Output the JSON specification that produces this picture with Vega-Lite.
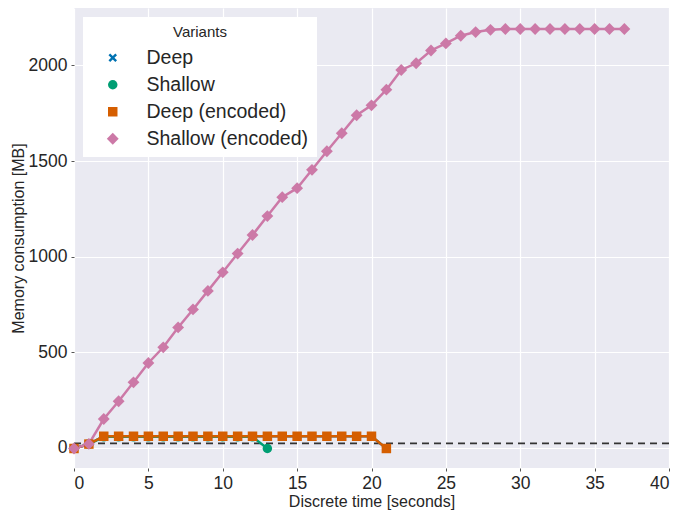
{
  "$schema": "https://vega.github.io/schema/vega-lite/v6.json",
  "width": 595,
  "height": 460,
  "autosize": {"type": "none"},
  "padding": {"left": 74, "top": 8, "right": 11, "bottom": 47},
  "background": "white",
  "config": {
    "view": {"fill": "#EAEAF2", "stroke": null},
    "font": "Liberation Sans",
    "axis": {
      "domain": false,
      "grid": true,
      "gridColor": "white",
      "gridWidth": 1.2,
      "tickColor": "#555555",
      "tickSize": 3,
      "labelFont": "Liberation Sans",
      "labelFontSize": 17.5,
      "labelColor": "#262626",
      "titleFont": "Liberation Sans",
      "titleFontSize": 16,
      "titleFontWeight": "normal",
      "titleColor": "#262626"
    },
    "legend": {
      "orient": "none", "legendX": 9, "legendY": 9,
      "fillColor": "white", "padding": 8, "symbolOffset": 12, "labelOffset": 24, "labelLimit": 300,
      "labelFont": "Liberation Sans", "labelFontSize": 19.5, "labelColor": "#262626",
      "titleFont": "Liberation Sans", "titleFontSize": 15, "titleFontWeight": "normal", "titleColor": "#262626",
      "titleAnchor": "middle", "titlePadding": 8, "rowPadding": 6, "symbolSize": 90, "symbolStrokeWidth": 0
    }
  },
  "datasets": {
    "series": [
      {"t": 0, "v": -3, "s": "Deep"}, {"t": 1, "v": 20, "s": "Deep"}, {"t": 2, "v": 61, "s": "Deep"}, {"t": 3, "v": 61, "s": "Deep"}, {"t": 4, "v": 61, "s": "Deep"}, {"t": 5, "v": 61, "s": "Deep"}, {"t": 6, "v": 61, "s": "Deep"}, {"t": 7, "v": 61, "s": "Deep"}, {"t": 8, "v": 61, "s": "Deep"}, {"t": 9, "v": 61, "s": "Deep"}, {"t": 10, "v": 61, "s": "Deep"}, {"t": 11, "v": 61, "s": "Deep"}, {"t": 12, "v": 61, "s": "Deep"}, {"t": 13, "v": 61, "s": "Deep"}, {"t": 14, "v": 61, "s": "Deep"}, {"t": 15, "v": 61, "s": "Deep"}, {"t": 16, "v": 61, "s": "Deep"}, {"t": 17, "v": 61, "s": "Deep"}, {"t": 18, "v": 61, "s": "Deep"}, {"t": 19, "v": 61, "s": "Deep"}, {"t": 20, "v": 61, "s": "Deep"}, {"t": 21, "v": -3, "s": "Deep"},
      {"t": 0, "v": -3, "s": "Shallow"}, {"t": 1, "v": 20, "s": "Shallow"}, {"t": 2, "v": 58, "s": "Shallow"}, {"t": 3, "v": 58, "s": "Shallow"}, {"t": 4, "v": 58, "s": "Shallow"}, {"t": 5, "v": 58, "s": "Shallow"}, {"t": 6, "v": 58, "s": "Shallow"}, {"t": 7, "v": 58, "s": "Shallow"}, {"t": 8, "v": 58, "s": "Shallow"}, {"t": 9, "v": 58, "s": "Shallow"}, {"t": 10, "v": 58, "s": "Shallow"}, {"t": 11, "v": 58, "s": "Shallow"}, {"t": 12, "v": 58, "s": "Shallow"}, {"t": 13, "v": -3, "s": "Shallow"},
      {"t": 0, "v": -3, "s": "Deep (encoded)"}, {"t": 1, "v": 20, "s": "Deep (encoded)"}, {"t": 2, "v": 61, "s": "Deep (encoded)"}, {"t": 3, "v": 61, "s": "Deep (encoded)"}, {"t": 4, "v": 61, "s": "Deep (encoded)"}, {"t": 5, "v": 61, "s": "Deep (encoded)"}, {"t": 6, "v": 61, "s": "Deep (encoded)"}, {"t": 7, "v": 61, "s": "Deep (encoded)"}, {"t": 8, "v": 61, "s": "Deep (encoded)"}, {"t": 9, "v": 61, "s": "Deep (encoded)"}, {"t": 10, "v": 61, "s": "Deep (encoded)"}, {"t": 11, "v": 61, "s": "Deep (encoded)"}, {"t": 12, "v": 61, "s": "Deep (encoded)"}, {"t": 13, "v": 61, "s": "Deep (encoded)"}, {"t": 14, "v": 61, "s": "Deep (encoded)"}, {"t": 15, "v": 61, "s": "Deep (encoded)"}, {"t": 16, "v": 61, "s": "Deep (encoded)"}, {"t": 17, "v": 61, "s": "Deep (encoded)"}, {"t": 18, "v": 61, "s": "Deep (encoded)"}, {"t": 19, "v": 61, "s": "Deep (encoded)"}, {"t": 20, "v": 61, "s": "Deep (encoded)"}, {"t": 21, "v": -3, "s": "Deep (encoded)"},
      {"t": 0, "v": -3, "s": "Shallow (encoded)"}, {"t": 1, "v": 21, "s": "Shallow (encoded)"}, {"t": 2, "v": 151, "s": "Shallow (encoded)"}, {"t": 3, "v": 244, "s": "Shallow (encoded)"}, {"t": 4, "v": 343, "s": "Shallow (encoded)"}, {"t": 5, "v": 444, "s": "Shallow (encoded)"}, {"t": 6, "v": 526, "s": "Shallow (encoded)"}, {"t": 7, "v": 630, "s": "Shallow (encoded)"}, {"t": 8, "v": 724, "s": "Shallow (encoded)"}, {"t": 9, "v": 821, "s": "Shallow (encoded)"}, {"t": 10, "v": 918, "s": "Shallow (encoded)"}, {"t": 11, "v": 1016, "s": "Shallow (encoded)"}, {"t": 12, "v": 1113, "s": "Shallow (encoded)"}, {"t": 13, "v": 1212, "s": "Shallow (encoded)"}, {"t": 14, "v": 1311, "s": "Shallow (encoded)"}, {"t": 15, "v": 1358, "s": "Shallow (encoded)"}, {"t": 16, "v": 1454, "s": "Shallow (encoded)"}, {"t": 17, "v": 1551, "s": "Shallow (encoded)"}, {"t": 18, "v": 1645, "s": "Shallow (encoded)"}, {"t": 19, "v": 1739, "s": "Shallow (encoded)"}, {"t": 20, "v": 1791, "s": "Shallow (encoded)"}, {"t": 21, "v": 1873, "s": "Shallow (encoded)"}, {"t": 22, "v": 1976, "s": "Shallow (encoded)"}, {"t": 23, "v": 2011, "s": "Shallow (encoded)"}, {"t": 24, "v": 2078, "s": "Shallow (encoded)"}, {"t": 25, "v": 2115, "s": "Shallow (encoded)"}, {"t": 26, "v": 2155, "s": "Shallow (encoded)"}, {"t": 27, "v": 2174, "s": "Shallow (encoded)"}, {"t": 28, "v": 2186, "s": "Shallow (encoded)"}, {"t": 29, "v": 2190, "s": "Shallow (encoded)"}, {"t": 30, "v": 2190, "s": "Shallow (encoded)"}, {"t": 31, "v": 2190, "s": "Shallow (encoded)"}, {"t": 32, "v": 2190, "s": "Shallow (encoded)"}, {"t": 33, "v": 2190, "s": "Shallow (encoded)"}, {"t": 34, "v": 2190, "s": "Shallow (encoded)"}, {"t": 35, "v": 2190, "s": "Shallow (encoded)"}, {"t": 36, "v": 2190, "s": "Shallow (encoded)"}, {"t": 37, "v": 2190, "s": "Shallow (encoded)"}
    ],
    "baseline": [{"y": 24}]
  },
  "layer": [
    {
      "data": {"name": "baseline"},
      "mark": {"type": "rule", "color": "#333333", "strokeWidth": 1.6, "strokeDash": [7, 5]},
      "encoding": {"y": {"field": "y", "type": "quantitative"}}
    },
    {
      "data": {"name": "series"},
      "mark": {"type": "line", "strokeWidth": 2.5},
      "encoding": {
        "x": {"field": "t", "type": "quantitative", "scale": {"domain": [0, 40], "nice": false, "zero": false}, "axis": {"values": [0, 5, 10, 15, 20, 25, 30, 35, 40], "format": "d", "title": "Discrete time [seconds]", "labelPadding": 3, "titlePadding": 2}},
        "y": {"field": "v", "type": "quantitative", "scale": {"domain": [-105, 2300], "nice": false, "zero": false}, "axis": {"values": [0, 500, 1000, 1500, 2000], "format": "d", "title": "Memory consumption [MB]", "labelPadding": 4, "titlePadding": 2}},
        "color": {"field": "s", "type": "nominal", "title": "Variants", "scale": {"domain": ["Deep", "Shallow", "Deep (encoded)", "Shallow (encoded)"], "range": ["#0072B2", "#009E73", "#D55E00", "#CC79A7"]}},
        "order": {"field": "t", "type": "quantitative"}
      }
    },
    {
      "data": {"name": "series"},
      "mark": {"type": "point", "filled": true, "opacity": 1, "size": 90},
      "encoding": {
        "x": {"field": "t", "type": "quantitative"},
        "y": {"field": "v", "type": "quantitative"},
        "color": {"field": "s", "type": "nominal", "title": "Variants"},
        "shape": {"field": "s", "type": "nominal", "title": "Variants", "scale": {"domain": ["Deep", "Shallow", "Deep (encoded)", "Shallow (encoded)"], "range": ["M-0.9,-0.55L-0.55,-0.9L0,-0.35L0.55,-0.9L0.9,-0.55L0.35,0L0.9,0.55L0.55,0.9L0,0.35L-0.55,0.9L-0.9,0.55L-0.35,0Z", "circle", "square", "M-1.25,0L0,-1.25L1.25,0L0,1.25Z"]}}
      }
    }
  ]
}
